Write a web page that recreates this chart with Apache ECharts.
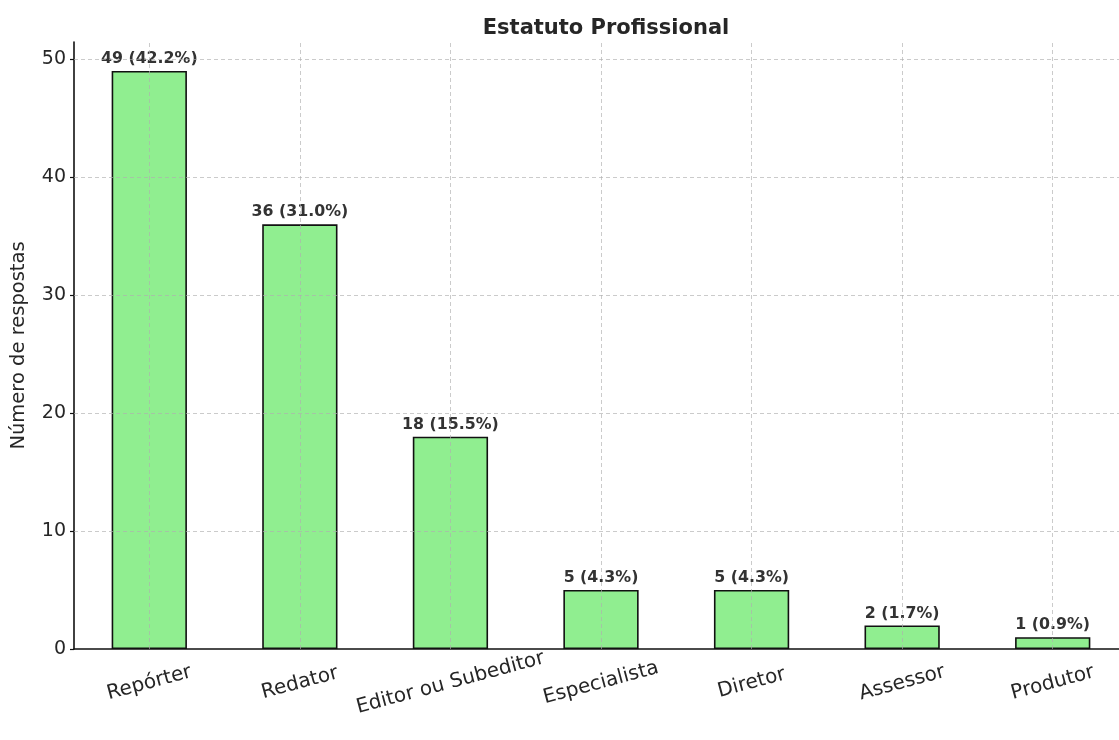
<!DOCTYPE html>
<html>
<head>
<meta charset="utf-8">
<title>Estatuto Profissional</title>
<script src="https://cdn.jsdelivr.net/npm/echarts@6/dist/echarts.min.js"></script>
<style>
  html, body { margin: 0; padding: 0; background: #ffffff; }
  #chart { width: 1119px; height: 740px; }
</style>
</head>
<body>
<div id="chart"></div>
<script>
// Professional status of respondents
const categories = ['Repórter', 'Redator', 'Editor ou Subeditor', 'Especialista', 'Diretor', 'Assessor', 'Produtor'];
const counts = [49, 36, 18, 5, 5, 2, 1];
const percents = ['42.2', '31.0', '15.5', '4.3', '4.3', '1.7', '0.9'];
const yTicks = [0, 10, 20, 30, 40, 50];

const FONT = '"DejaVu Sans", "Noto Sans", sans-serif';
const gridColor = 'rgba(175,175,175,0.65)';
const gridStyle = { color: gridColor, type: [4, 3], width: 1 };

const chart = echarts.init(document.getElementById('chart'), null, { renderer: 'canvas' });

// Dashed grid, drawn over the bars
const gridLines = categories.map(c => ({ xAxis: c }))
  .concat(yTicks.slice(1).map(v => ({ yAxis: v })));

chart.setOption({
  animation: false,
  backgroundColor: '#ffffff',
  title: {
    text: 'Estatuto Profissional',
    left: 601, top: 13, textAlign: 'center',
    textStyle: { fontFamily: FONT, fontSize: 21, fontWeight: 'bold', color: '#262626' }
  },
  grid: {
    left: 74, right: -9, top: 42, bottom: 91,
    containLabel: false, outerBoundsMode: 'none'
  },
  xAxis: {
    type: 'category',
    data: categories,
    boundaryGap: true,
    axisLine: { show: true, lineStyle: { color: '#111', width: 1.6 } },
    axisTick: { show: true, alignWithLabel: true, inside: true, length: 5, lineStyle: { color: '#111', width: 1.2 } },
    axisLabel: {
      rotate: 15, interval: 0, margin: 34,
      align: 'center', verticalAlign: 'middle',
      fontFamily: FONT, fontSize: 20, color: '#262626'
    },
    splitLine: { show: false }
  },
  yAxis: {
    type: 'value',
    min: 0, max: 51.45, interval: 10,
    name: 'Número de respostas',
    nameLocation: 'middle', nameGap: 45, nameRotate: 90,
    nameTextStyle: { fontFamily: FONT, fontSize: 19.5, color: '#262626' },
    axisLine: { show: true, lineStyle: { color: '#111', width: 1.6 } },
    axisTick: { show: true, length: 4, customValues: yTicks, lineStyle: { color: '#111', width: 1.2 } },
    axisLabel: {
      customValues: yTicks, margin: 8,
      fontFamily: FONT, fontSize: 19, color: '#262626'
    },
    splitLine: { show: false }
  },
  series: [{
    type: 'bar',
    data: counts,
    barWidth: '50%',
    itemStyle: { color: '#90EE90', borderColor: '#111', borderWidth: 1.6 },
    label: {
      show: true, position: 'top', distance: 4,
      formatter: p => p.value + ' (' + percents[p.dataIndex] + '%)',
      fontFamily: FONT, fontSize: 15.8, fontWeight: 'bold', color: '#333333'
    },
    markLine: {
      silent: true,
      symbol: 'none',
      label: { show: false },
      lineStyle: gridStyle,
      data: gridLines
    }
  }]
});
</script>
</body>
</html>
